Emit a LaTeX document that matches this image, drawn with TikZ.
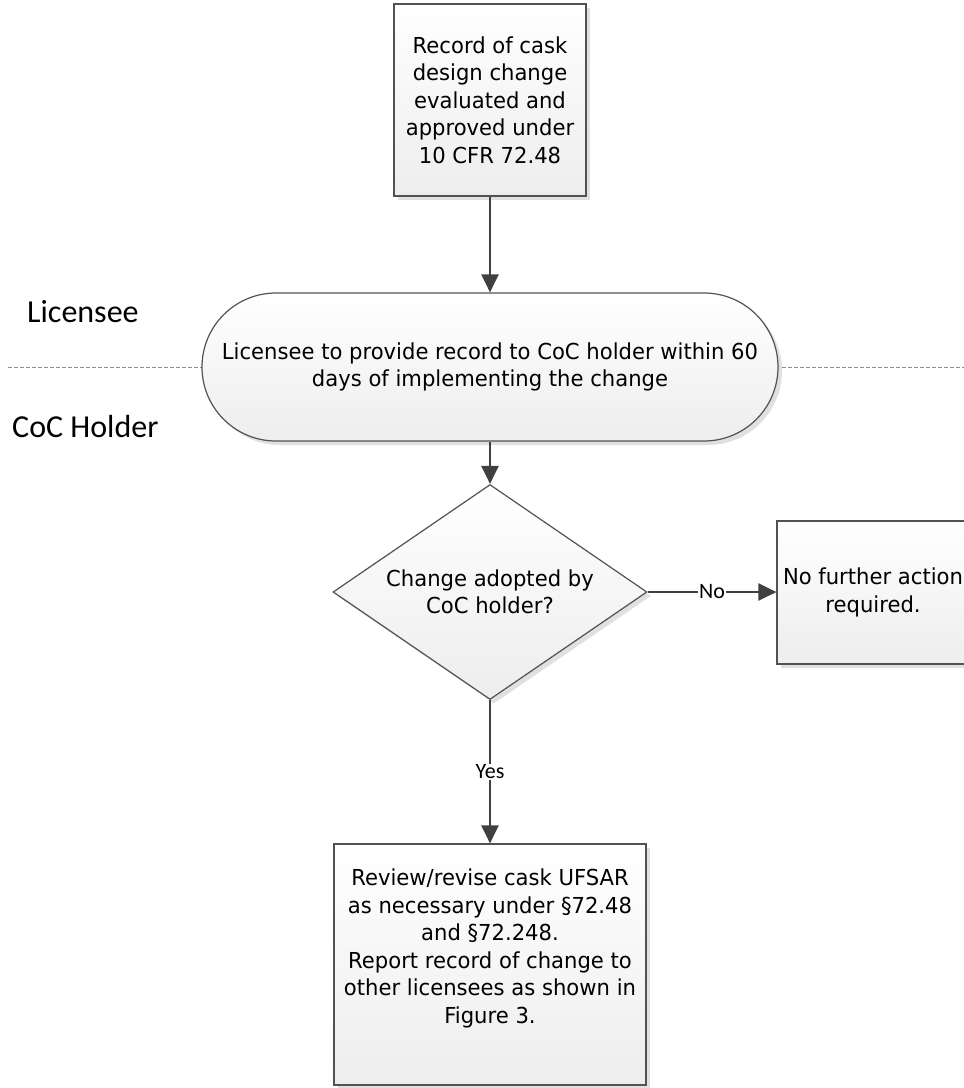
\documentclass[tikz,border=0pt]{standalone}
\usepackage{fontspec}
\setmainfont[FakeStretch=0.96]{DejaVu Sans}
\newfontfamily\lanefont{Carlito}
\usetikzlibrary{shapes.geometric,shadows,arrows.meta,positioning}

\begin{document}
\begin{tikzpicture}[x=1pt,y=-1pt,>={Triangle[length=18pt,width=17pt]}]
  \tikzstyle{shape base}=[draw=black!68,line width=1.2pt,top color=white,bottom color=black!7,
    drop shadow={shadow xshift=4pt,shadow yshift=-4pt,fill=black!12,opacity=1},
    font=\fontsize{22}{27.5}\selectfont,align=center,inner sep=0pt]
  \tikzstyle{process}=[shape base,rectangle]
  \tikzstyle{terminal}=[shape base,rectangle,rounded corners=74pt]
  \tikzstyle{decision}=[shape base,diamond]
  \tikzstyle{inside}=[font=\fontsize{22}{27.5}\selectfont,align=center]
  \tikzstyle{flow}=[->,draw=black!75,line width=2.6pt]
  \tikzstyle{lane}=[draw=black!45,line width=0.8pt,dash pattern=on 4pt off 2pt]
  \tikzstyle{lane label}=[font=\lanefont\fontsize{32}{38}\selectfont,anchor=base west,inner sep=0pt]
  \tikzstyle{flow label}=[font=\lanefont\fontsize{22}{26}\selectfont,fill=white,inner sep=1pt]

  \useasboundingbox (0,0) rectangle (964,1088);

  % Swim lane separator
  \coordinate (laneL) at (8,367);
  \coordinate (laneR) at (964,367);
  \draw[lane] (laneL) -- (laneR);
  \node[lane label] (lic) at (27,322) {Licensee};
  \node[lane label] (coc) at (12,437) {CoC Holder};

  % Steps of the flow
  \node[process,minimum width=192pt,minimum height=192pt] (rec) at (490,100)
    {Record of cask\\design change\\evaluated and\\approved under\\10 CFR 72.48};
  \node[terminal,minimum width=576pt,minimum height=148pt] (prov) at (490,367)
    {Licensee to provide record to CoC holder within 60\\days of implementing the change};
  \node[decision,minimum width=314pt,minimum height=215pt,
    label={[inside]center:Change adopted by\\CoC holder?}] (dec) at (490,592) {};
  \node[process,minimum width=192pt,minimum height=143pt] (none) at (873,592.5)
    {No further action\\required.};
  \node[process,minimum width=312pt,minimum height=241pt,
    label={[inside,yshift=16pt]center:Review/revise cask UFSAR\\as necessary under §72.48\\and §72.248.\\Report record of change to\\other licensees as shown in\\Figure 3.}] (rev) at (490,964.5) {};

  % Connectors
  \draw[flow] (rec) -- (prov);
  \draw[flow] (prov) -- (dec);
  \draw[flow] (dec.east) -- node[flow label] {No} (dec.east -| none.west);
  \draw[flow] (dec.south) -- node[flow label] {Yes} (rev.north);
\end{tikzpicture}
\end{document}
